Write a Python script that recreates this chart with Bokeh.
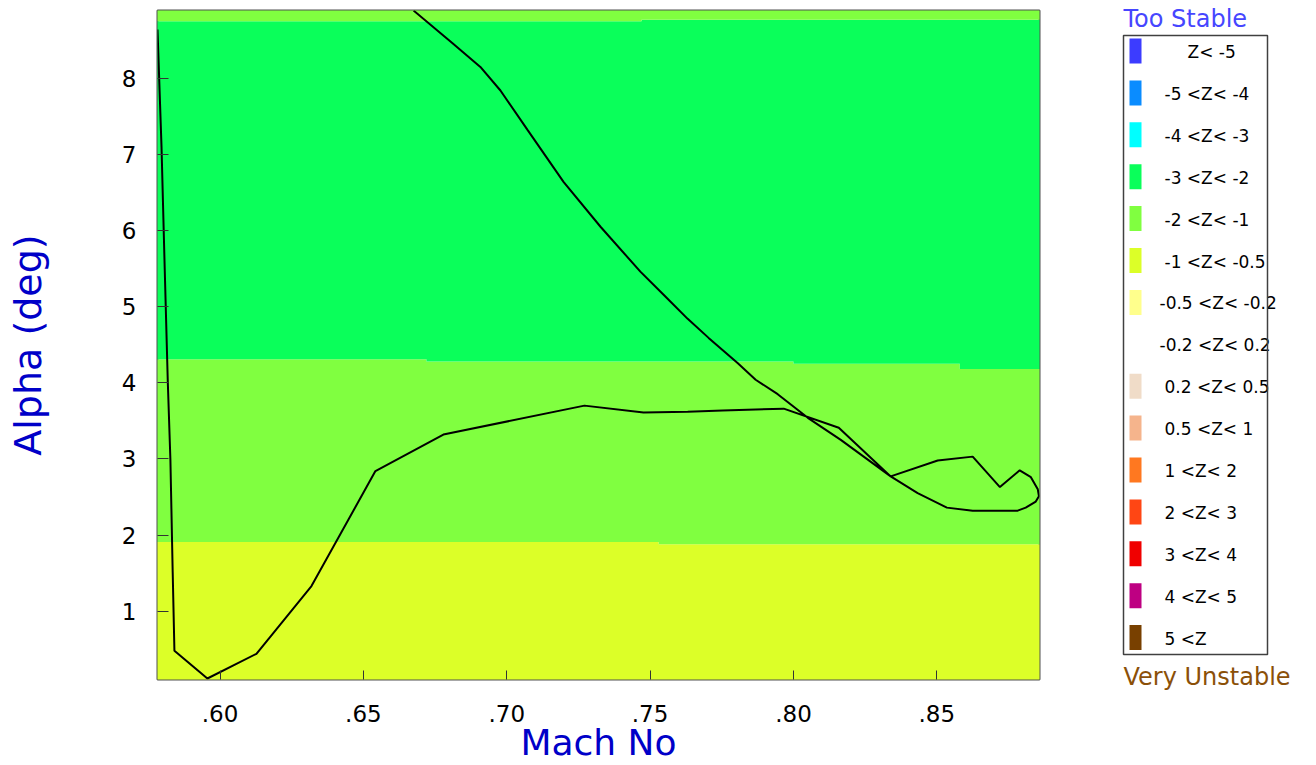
import numpy as np
from bokeh.plotting import figure
from bokeh.models import Range1d, FixedTicker
from bokeh.layouts import row, column
from bokeh.embed import file_html
from bokeh.resources import INLINE
from bokeh.core.properties import value

# ---------------- data ----------------
# trajectory (Mach No, Alpha deg)
mach = [0.5782, 0.5796, 0.5807, 0.5818, 0.5827, 0.5835, 0.5841, 0.5956, 0.6127,
        0.6319, 0.6542, 0.6779, 0.7271, 0.7477, 0.7631, 0.7753, 0.7966, 0.8158,
        0.8339, 0.8503, 0.8625, 0.8720, 0.8789, 0.8828, 0.8852, 0.8856, 0.8845,
        0.8810, 0.8782, 0.8625, 0.8535, 0.8433, 0.8339, 0.8165, 0.8050, 0.7945,
        0.7868, 0.7805, 0.7704, 0.7631, 0.7554, 0.7466, 0.7327, 0.7198, 0.7073,
        0.6978, 0.6908, 0.6811, 0.6675]
alpha = [8.64, 7.10, 5.52, 4.00, 2.99, 1.51, 0.48, 0.115, 0.44,
         1.33, 2.84, 3.32, 3.70, 3.61, 3.62, 3.635, 3.66, 3.41,
         2.77, 2.98, 3.03, 2.63, 2.85, 2.76, 2.60, 2.51, 2.44,
         2.36, 2.32, 2.32, 2.36, 2.55, 2.77, 3.25, 3.54, 3.85,
         4.04, 4.26, 4.59, 4.84, 5.13, 5.46, 6.05, 6.64, 7.32,
         7.84, 8.15, 8.46, 8.89]

# contour boundaries between stability bands
b1_mach = [0.570, 0.753, 0.753, 0.890]
b1_alpha = [1.91, 1.91, 1.88, 1.88]
b2_mach = [0.570, 0.672, 0.672, 0.800, 0.800, 0.858, 0.858, 0.890]
b2_alpha = [4.31, 4.31, 4.28, 4.28, 4.25, 4.25, 4.18, 4.18]
b3_mach = [0.570, 0.747, 0.747, 0.890]
b3_alpha = [8.75, 8.75, 8.77, 8.77]

xticks = [0.60, 0.65, 0.70, 0.75, 0.80, 0.85]
xtick_labels = [".60", ".65", ".70", ".75", ".80", ".85"]
yticks = [1, 2, 3, 4, 5, 6, 7, 8]
ytick_labels = ["1", "2", "3", "4", "5", "6", "7", "8"]

legend_labels = ["Z< -5", "-5 <Z< -4", "-4 <Z< -3", "-3 <Z< -2", "-2 <Z< -1",
                 "-1 <Z< -0.5", "-0.5 <Z< -0.2", "-0.2 <Z< 0.2", "0.2 <Z< 0.5",
                 "0.5 <Z< 1", "1 <Z< 2", "2 <Z< 3", "3 <Z< 4", "4 <Z< 5", "5 <Z"]
legend_colors = ["#3C3CFF", "#0A8CFF", "#00FFFF", "#0AFF5A", "#80FF40",
                 "#DCFF28", "#FFFF8C", "#FFFFFF", "#F0DCC8", "#F5B48C",
                 "#FF7820", "#FF4614", "#F00000", "#BE0082", "#784000"]

C_YEL = legend_colors[5]
C_LGR = legend_colors[4]
C_GRN = legend_colors[3]

FONT = "DejaVu Sans"
TITLE_COLOR = "#0000C8"

# ---------------- main plot ----------------
x0, x1 = 0.5782, 0.8858
y0, y1 = 0.102, 8.891
p = figure(width=1100, height=765, x_range=Range1d(x0, x1), y_range=Range1d(y0, y1),
           output_backend="svg", toolbar_location=None, title=None,
           x_axis_label="Mach No", y_axis_label="Alpha (deg)",
           min_border_left=157, min_border_right=61, min_border_top=10, min_border_bottom=84)
p.background_fill_color = "white"
p.border_fill_color = "white"
p.outline_line_color = "#505050"
p.outline_line_width = 2
p.xgrid.visible = False
p.ygrid.visible = False

low = [-1.0, -1.0]
high = [10.0, 10.0]
ends = [b1_mach[0], b1_mach[-1]]
p.patch(ends + b1_mach[::-1], low + b1_alpha[::-1], fill_color=C_YEL, line_color=None)
p.patch(b1_mach + b2_mach[::-1], b1_alpha + b2_alpha[::-1], fill_color=C_LGR, line_color=None)
p.patch(b2_mach + b3_mach[::-1], b2_alpha + b3_alpha[::-1], fill_color=C_GRN, line_color=None)
p.patch(b3_mach + ends[::-1], b3_alpha + high, fill_color=C_LGR, line_color=None)

p.line(mach, alpha, line_color="black", line_width=2)

for ax in (p.xaxis, p.yaxis):
    ax.axis_line_color = None
    ax.major_tick_line_color = "#333333"
    ax.major_tick_line_width = 1
    ax.minor_tick_line_color = None
    ax.major_tick_out = 0
    ax.major_label_text_font = FONT
    ax.major_label_text_font_size = "23px"
    ax.major_label_text_color = "black"
    ax.axis_label_text_font = FONT
    ax.axis_label_text_font_style = "normal"
    ax.axis_label_text_color = TITLE_COLOR

p.xaxis.ticker = FixedTicker(ticks=xticks)
p.xaxis.major_label_overrides = dict(zip(xticks, xtick_labels))
p.xaxis.major_tick_in = 9
p.xaxis.major_label_standoff = 25
p.xaxis.axis_label_text_font_size = "36px"
p.xaxis.axis_label_standoff = -3

p.yaxis.ticker = FixedTicker(ticks=yticks)
p.yaxis.major_label_overrides = dict(zip(yticks, ytick_labels))
p.yaxis.major_tick_in = 11
p.yaxis.major_label_standoff = 21
p.yaxis.axis_label_text_font_size = "38px"
p.yaxis.axis_label_standoff = 69

# ---------------- legend panel ----------------
q = figure(width=208, height=765, x_range=Range1d(1100, 1308), y_range=Range1d(765, 0),
           output_backend="svg", toolbar_location=None, title=None, min_border=0,
           x_axis_location=None, y_axis_location=None)
q.outline_line_color = None
q.background_fill_color = "white"
q.border_fill_color = "white"
q.grid.visible = False

n = len(legend_labels)
cy = 50.5 + 41.9 * np.arange(n)
q.quad(left=1129, right=1141, top=cy - 12.5, bottom=cy + 12.5,
       fill_color=legend_colors, line_color=None)
tx = [1187 if s.startswith("Z") else (1159 if s.startswith("-0") else 1164) for s in legend_labels]
q.text(x=tx, y=cy + 1, text=legend_labels, text_font=value(FONT), text_font_size="17px",
       text_align="left", text_baseline="middle", text_color="black")
q.quad(left=[1123], right=[1267], top=[35], bottom=[654], fill_color=None,
       line_color="#404040", line_width=1.5)
q.text(x=[1123], y=[18], text=["Too Stable"], text_font=value(FONT), text_font_size="24px",
       text_align="left", text_baseline="middle", text_color="#4646FF")
q.text(x=[1123], y=[676], text=["Very Unstable"], text_font=value(FONT), text_font_size="24px",
       text_align="left", text_baseline="middle", text_color="#8B5008")

layout = row(column(p), q)
open("out.html", "w").write(file_html(layout, INLINE))
